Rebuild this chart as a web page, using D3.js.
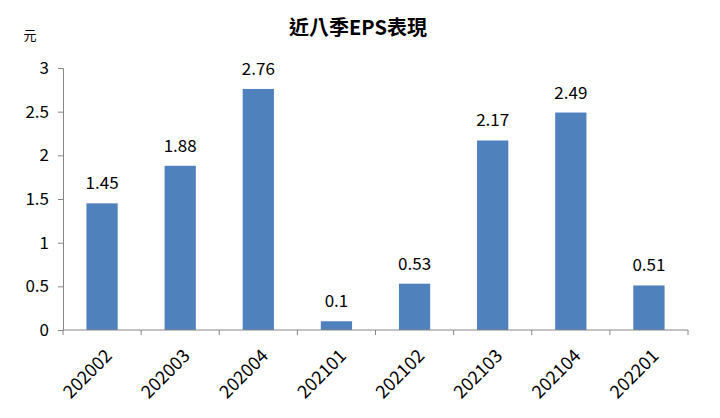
<!DOCTYPE html>
<html>
<head>
<meta charset="utf-8">
<script src="https://cdn.jsdelivr.net/npm/d3@7"></script>
<style>
  body { margin:0; background:#fff; }
  svg text { font-family: "Noto Sans CJK TC", "Noto Sans", sans-serif; fill:#000; }
</style>
</head>
<body>
<svg id="chart" width="720" height="418"></svg>
<script>
// 近八季 EPS
let quarters = ['202002','202003','202004','202101','202102','202103','202104','202201']
let eps = [1.45, 1.88, 2.76, 0.1, 0.53, 2.17, 2.49, 0.51]
let yTicks = [0, 0.5, 1, 1.5, 2, 2.5, 3]

let margin = { left:63, right:32, top:68, bottom:88 }
let W = 720, H = 418
let svg = d3.select('#chart')

let x = d3.scaleBand()
	.domain(quarters)
	.range([margin.left, W - margin.right])
	.paddingInner(0.6)
	.paddingOuter(0.3)

let y = d3.scaleLinear()
	.domain([0, 3])
	.range([H - margin.bottom, margin.top])

// title
svg.append('text')
	.attr('x', 358).attr('y', 35)
	.attr('text-anchor','middle')
	.style('font-size','20px').style('font-weight','bold')
	.text('近八季EPS表現')

svg.append('text')
	.attr('x', 30).attr('y', 40)
	.attr('text-anchor','middle')
	.style('font-size','13px')
	.text('元')

// y axis
let yAxis = d3.axisLeft(y).tickValues(yTicks).tickSize(5).tickPadding(9)
	.tickFormat(d => d)
let gy = svg.append('g')
	.attr('transform','translate('+margin.left+',0)')
	.call(yAxis)
gy.select('.domain').attr('stroke','#868686')
gy.selectAll('.tick line').attr('stroke','#868686')
gy.selectAll('.tick text').style('font-size','17px')

// bars
svg.append('g').selectAll('rect')
	.data(eps)
	.join('rect')
	.attr('x', (d,i) => x(quarters[i]))
	.attr('y', d => y(d))
	.attr('width', x.bandwidth())
	.attr('height', d => y(0) - y(d))
	.attr('fill','#4F81BD')

// value labels
svg.append('g').selectAll('text')
	.data(eps)
	.join('text')
	.attr('x', (d,i) => x(quarters[i]) + x.bandwidth()/2)
	.attr('y', d => y(d) - 14)
	.attr('text-anchor','middle')
	.style('font-size','17px')
	.text(d => d)

// x axis with ticks between categories
let step = x.step()
let boundaries = d3.range(quarters.length + 1).map(i => margin.left + i * step)
let gx = svg.append('g')
gx.append('line')
	.attr('x1', margin.left).attr('x2', W - margin.right)
	.attr('y1', y(0)).attr('y2', y(0))
	.attr('stroke','#868686')
gx.selectAll('line.tk')
	.data(boundaries)
	.join('line')
	.attr('class','tk')
	.attr('x1', d => d).attr('x2', d => d)
	.attr('y1', y(0)).attr('y2', y(0) + 5)
	.attr('stroke','#868686')

gx.selectAll('text')
	.data(quarters)
	.join('text')
	.attr('text-anchor','end')
	.attr('transform', d => 'translate(' + (x(d) + x.bandwidth()/2 + 11) + ',' + (y(0) + 27) + ') rotate(-45)')
	.style('font-size','18px')
	.text(d => d)
</script>
</body>
</html>
